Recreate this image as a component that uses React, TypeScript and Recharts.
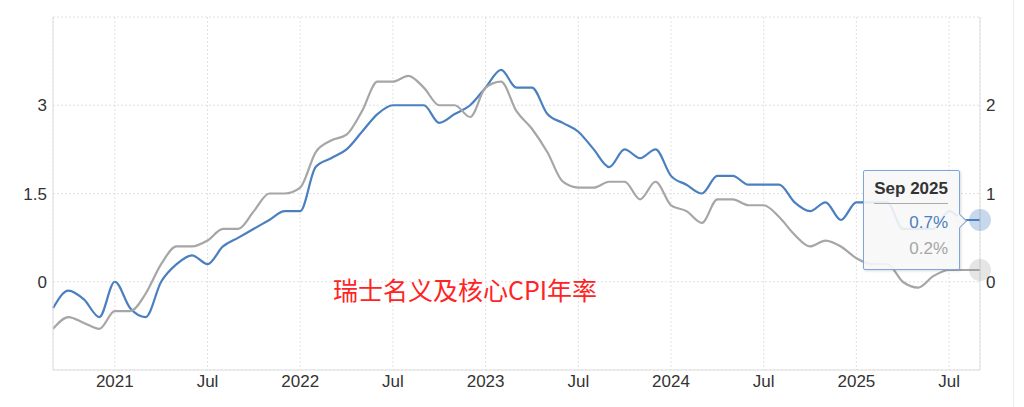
import React from "react";
import {CartesianGrid, Line, LineChart, Tooltip, XAxis, YAxis} from "recharts";

// Sep 2020 .. Sep 2025, monthly
const months = [
    "Sep 2020", "Oct 2020", "Nov 2020", "Dec 2020",
    "Jan 2021", "Feb 2021", "Mar 2021", "Apr 2021", "May 2021", "Jun 2021",
    "Jul 2021", "Aug 2021", "Sep 2021", "Oct 2021", "Nov 2021", "Dec 2021",
    "Jan 2022", "Feb 2022", "Mar 2022", "Apr 2022", "May 2022", "Jun 2022",
    "Jul 2022", "Aug 2022", "Sep 2022", "Oct 2022", "Nov 2022", "Dec 2022",
    "Jan 2023", "Feb 2023", "Mar 2023", "Apr 2023", "May 2023", "Jun 2023",
    "Jul 2023", "Aug 2023", "Sep 2023", "Oct 2023", "Nov 2023", "Dec 2023",
    "Jan 2024", "Feb 2024", "Mar 2024", "Apr 2024", "May 2024", "Jun 2024",
    "Jul 2024", "Aug 2024", "Sep 2024", "Oct 2024", "Nov 2024", "Dec 2024",
    "Jan 2025", "Feb 2025", "Mar 2025", "Apr 2025", "May 2025", "Jun 2025",
    "Jul 2025", "Aug 2025", "Sep 2025",
];

// core CPI YoY (blue, right axis)
const coreCpi = [
    -0.3, -0.1, -0.2, -0.4,
    0.0, -0.3, -0.4, 0.0, 0.2, 0.3, 0.2, 0.4, 0.5, 0.6, 0.7, 0.8,
    0.8, 1.3, 1.4, 1.5, 1.7, 1.9, 2.0, 2.0, 2.0, 1.8, 1.9, 2.0,
    2.2, 2.4, 2.2, 2.2, 1.9, 1.8, 1.7, 1.5, 1.3, 1.5, 1.4, 1.5,
    1.2, 1.1, 1.0, 1.2, 1.2, 1.1, 1.1, 1.1, 0.9, 0.8, 0.9, 0.7,
    0.9, 0.9, 0.9, 0.6, 0.6, 0.6, 0.8, 0.7, 0.7,
];

// headline CPI YoY (gray, left axis)
const headlineCpi = [
    -0.8, -0.6, -0.7, -0.8,
    -0.5, -0.5, -0.2, 0.3, 0.6, 0.6, 0.7, 0.9, 0.9, 1.2, 1.5, 1.5,
    1.6, 2.2, 2.4, 2.5, 2.9, 3.4, 3.4, 3.5, 3.3, 3.0, 3.0, 2.8,
    3.3, 3.4, 2.9, 2.6, 2.2, 1.7, 1.6, 1.6, 1.7, 1.7, 1.4, 1.7,
    1.3, 1.2, 1.0, 1.4, 1.4, 1.3, 1.3, 1.1, 0.8, 0.6, 0.7, 0.6,
    0.4, 0.3, 0.3, 0.0, -0.1, 0.1, 0.2, 0.2, 0.2,
];

const xTicks = [4, 10, 16, 22, 28, 34, 40, 46, 52, 58];
const xTickLabels = ["2021", "Jul", "2022", "Jul", "2023", "Jul", "2024", "Jul", "2025", "Jul"];
const leftTicks = [-1.5, 0, 1.5, 3, 4.5];
const leftTickLabels = ["", "0", "1.5", "3", ""];
const rightTicks = [0, 1, 2];
const title = "瑞士名义及核心CPI年率";

const BLUE = "#4a7fc0";
const GRAY = "#a6a6a6";
const FONT = "'Liberation Sans', Arial, sans-serif";

const data = months.map((m, i) => ({i, month: m, core: coreCpi[i], headline: headlineCpi[i]}));

function TipBox({active, payload}: any) {
    if (!active || !payload || !payload.length) return null;
    const row = payload[0].payload;
    return (
        <div style={{
            position: "relative", width: 97, height: 100, boxSizing: "border-box",
            background: "rgba(247,247,247,0.9)", border: "1px solid #7fa6da", borderRadius: 2,
            boxShadow: "1px 1px 3px rgba(0,0,0,0.15)", fontFamily: FONT, fontSize: 17,
            textAlign: "right", padding: "7px 11px 0 0", whiteSpace: "nowrap",
        }}>
            <div style={{
                position: "absolute", right: -6, top: 45, width: 9, height: 9, background: "#f7f7f7",
                borderTop: "1px solid #7fa6da", borderRight: "1px solid #7fa6da", transform: "rotate(45deg)",
            }}/>
            <span style={{
                display: "inline-block", fontWeight: "bold", color: "#333", lineHeight: "21px",
                borderBottom: "1px solid #aaa", paddingBottom: 4,
            }}>{row.month}</span>
            <div style={{color: BLUE, lineHeight: "26px", marginTop: 6}}>{row.core.toFixed(1)}%</div>
            <div style={{color: GRAY, lineHeight: "26px"}}>{row.headline.toFixed(1)}%</div>
        </div>
    );
}

export default function App() {
    const tick = {fill: "#333", fontSize: 17, fontFamily: FONT};
    return (
        <div style={{position: "absolute", left: 0, top: 0, width: 1024, height: 407, background: "#fff"}}>
            <LineChart width={1024} height={407} data={data} margin={{top: 17, right: 0, bottom: 0, left: 0}}>
                <CartesianGrid yAxisId="left" strokeDasharray="2 2" stroke="#e2e2e2"/>
                <XAxis dataKey="i" type="number" domain={[0, 60]} ticks={xTicks} interval={0}
                       tickFormatter={(v: number) => xTickLabels[xTicks.indexOf(v)]}
                       height={37} tickSize={0} tickMargin={5} tickLine={false}
                       axisLine={{stroke: "#ddd"}} tick={tick}/>
                <YAxis yAxisId="left" domain={[-1.5, 4.5]} ticks={leftTicks} interval={0}
                       tickFormatter={(v: number) => leftTickLabels[leftTicks.indexOf(v)]}
                       width={53} tickSize={0} tickMargin={6} tickLine={false}
                       axisLine={{stroke: "#ddd"}} tick={tick}/>
                <YAxis yAxisId="right" orientation="right" domain={[-1, 3]} ticks={rightTicks} interval={0}
                       width={44} tickSize={0} tickMargin={6} tickLine={false}
                       axisLine={{stroke: "#ddd"}} tick={tick}/>
                <Tooltip content={<TipBox/>} defaultIndex={60} active={true} cursor={false}
                         position={{x: 863, y: 170}} isAnimationActive={false}
                         allowEscapeViewBox={{x: true, y: true}} wrapperStyle={{outline: "none"}}/>
                <Line yAxisId="right" type="monotone" dataKey="core" stroke={BLUE} strokeWidth={2.2}
                      dot={false} activeDot={{r: 11, fill: "rgba(74,127,192,0.3)", stroke: "none"}}
                      isAnimationActive={false}/>
                <Line yAxisId="left" type="monotone" dataKey="headline" stroke={GRAY} strokeWidth={2.2}
                      dot={false} activeDot={{r: 11, fill: "rgba(150,150,150,0.25)", stroke: "none"}}
                      isAnimationActive={false}/>
            </LineChart>
            <div style={{
                position: "absolute", left: 333, top: 275, fontSize: 25, lineHeight: "28px", color: "#ff2424",
                fontFamily: "'Noto Sans CJK SC', sans-serif", whiteSpace: "nowrap", pointerEvents: "none",
            }}>{title}</div>
            <div style={{position: "absolute", left: 1013, top: 0, width: 1, height: 407, background: "#ececec"}}/>
        </div>
    );
}
